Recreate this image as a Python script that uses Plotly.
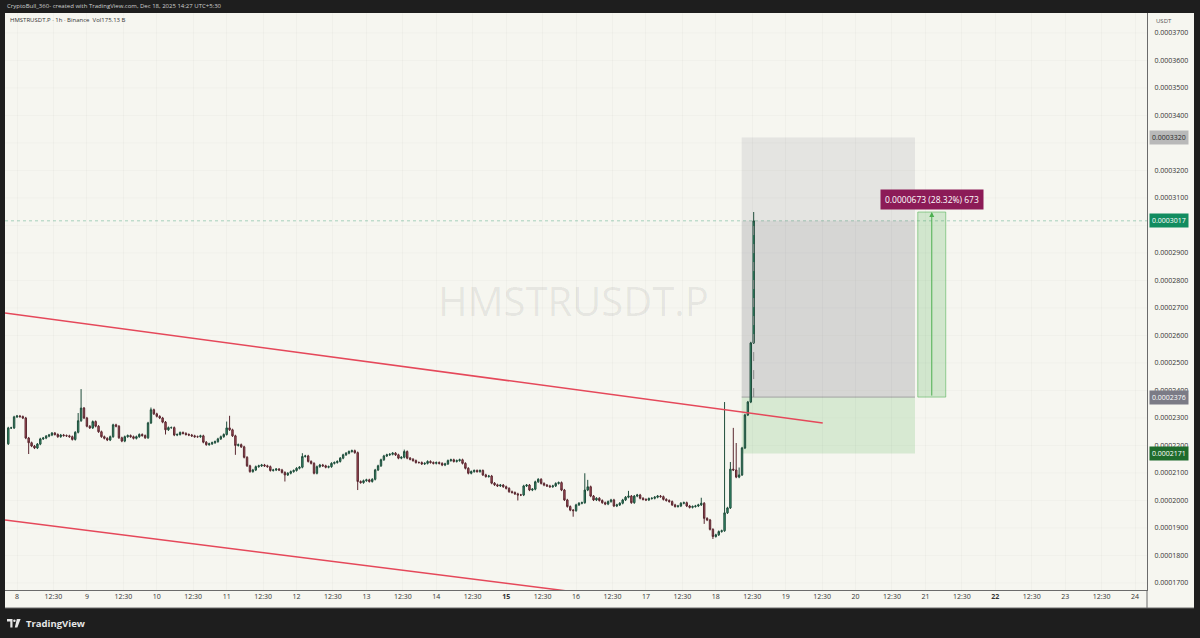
import plotly.graph_objects as go

# ---------------- data ----------------
SYMBOL = "HMSTRUSDT.P"
HEADER = "HMSTRUSDT.P · 1h · Binance  Vol175.13 B"
TOPBAR = "CryptoBull_360- created with TradingView.com, Dec 18, 2025 14:27 UTC+5:30"
PRICE_UNIT = 1e-7          # candle values below are in units of 0.0000001 USDT
START_DAY = 7.875          # day number of the first 1h candle
BAR_DAYS = 1 / 24
FIRST_OPEN = 2206
CLOSES = [
    2264, 2264, 2304, 2307, 2305, 2300, 2227, 2210, 2198, 2191,
    2205, 2224, 2227, 2234, 2238, 2245, 2240, 2232, 2238, 2236,
    2235, 2232, 2222, 2248, 2290, 2336, 2300, 2270, 2264, 2287,
    2270, 2250, 2232, 2226, 2220, 2232, 2275, 2270, 2228, 2216,
    2232, 2236, 2232, 2226, 2232, 2240, 2236, 2228, 2282, 2330,
    2315, 2306, 2300, 2285, 2257, 2265, 2265, 2238, 2240, 2247,
    2244, 2240, 2238, 2235, 2232, 2232, 2235, 2212, 2203, 2206,
    2210, 2214, 2224, 2232, 2240, 2264, 2257, 2235, 2200, 2203,
    2195, 2157, 2126, 2105, 2111, 2123, 2126, 2129, 2126, 2123,
    2109, 2111, 2114, 2111, 2102, 2093, 2099, 2105, 2109, 2117,
    2121, 2160, 2162, 2142, 2135, 2099, 2123, 2129, 2126, 2121,
    2123, 2135, 2138, 2142, 2154, 2166, 2172, 2178, 2181, 2174,
    2069, 2065, 2072, 2075, 2069, 2077, 2111, 2126, 2148, 2162,
    2166, 2168, 2172, 2166, 2154, 2157, 2178, 2154, 2150, 2145,
    2138, 2138, 2133, 2135, 2142, 2138, 2135, 2138, 2135, 2129,
    2133, 2145, 2148, 2142, 2145, 2148, 2135, 2117, 2099, 2105,
    2109, 2105, 2109, 2093, 2087, 2089, 2063, 2057, 2053, 2056,
    2050, 2044, 2032, 2029, 2024, 2020, 2020, 2053, 2056, 2038,
    2041, 2068, 2077, 2062, 2056, 2053, 2050, 2053, 2062, 2065,
    2038, 2002, 1978, 1965, 1963, 1984, 1990, 1992, 2038, 2050,
    2016, 2002, 2008, 2000, 1992, 1987, 1996, 2002, 1980, 1984,
    1990, 2002, 2012, 2016, 1992, 2016, 2020, 2008, 2004, 2002,
    2007, 2008, 2012, 2016, 2014, 2004, 2000, 1996, 1984, 1978,
    1980, 1990, 1992, 1980, 1975, 1978, 1980, 1984, 1990, 1935,
    1929, 1895, 1869, 1875, 1887, 1890, 1955, 1973, 2114, 2111,
    2085, 2093, 2191, 2311, 2358, 2573, 3017,
]
HIGH_WICKS = {24: 2318, 25: 2405, 49: 2338, 75: 2287, 76: 2308, 101: 2172,
              136: 2185, 198: 2099, 199: 2075, 213: 2035, 238: 2010,
              246: 2358, 248: 2140, 249: 2264, 250: 2209, 251: 2120, 256: 3049}
LOW_WICKS = {7: 2169, 54: 2240, 78: 2166, 95: 2069, 120: 2038, 175: 2000,
             194: 1941, 239: 1915, 242: 1860}
DEFAULT_WICK = 4

ENTRY = 0.0002376
TARGET = 0.0003320
STOP = 0.0002171
CURRENT = 0.0003017
MEASURE_TOP = 0.0003049
POSITION_X = [18.37, 20.85]
MEASURE_X = [20.89, 21.29]
MEASURE_TEXT = "0.0000673 (28.32%) 673"
MEASURE_LABEL_Y = 0.0003095

TREND1_X = [7.828, 19.53]
TREND1_Y = [0.0002682, 0.0002282]
TREND2_X = [7.828, 16.34]
TREND2_Y = [0.0001929, 0.0001656]

X_RANGE = [7.828, 24.17]
Y_RANGE = [0.00016745, 0.00037727]
# price-scale ticks (0.0003000 and 0.0003300 sit under the price tags)
Y_TICKS = [0.00017, 0.00018, 0.00019, 0.00020, 0.00021, 0.00022, 0.00023,
           0.00024, 0.00025, 0.00026, 0.00027, 0.00028, 0.00029,
           0.00031, 0.00032, 0.00034, 0.00035, 0.00036, 0.00037]
Y_GRID = [0.00017 + k * 0.00001 for k in range(21)]

DAYS = list(range(8, 25))
DAY_TEXT = [str(d) if d not in (15, 22) else "<b>%d</b>" % d for d in DAYS]
HALF_TEXT = "12:30"
HALF_OFFSET = 12.5 / 24

PRICE_TAGS = [  # (price, text, bg, fg)
    (TARGET, "0.0003320", "#b9b9b9", "#2a2a2a"),
    (CURRENT, "0.0003017", "#118c5f", "#ffffff"),
    (ENTRY, "0.0002376", "#7b7b86", "#ffffff"),
    (STOP, "0.0002171", "#1f6b2c", "#ffffff"),
]

# ---------------- build ----------------
W, H = 1200, 638
PL, PR, PT, PB = 5, 1147, 13, 590


def px(x):
    return (x - PL) / (PR - PL)


def py(y):
    return (PB - y) / (PB - PT)


xs, o, h, l, c = [], [], [], [], []
prev = FIRST_OPEN
for i, cl in enumerate(CLOSES):
    xs.append(START_DAY + i * BAR_DAYS)
    hi = HIGH_WICKS.get(i, max(prev, cl) + DEFAULT_WICK)
    lo = LOW_WICKS.get(i, min(prev, cl) - DEFAULT_WICK)
    o.append(prev * PRICE_UNIT)
    c.append(cl * PRICE_UNIT)
    h.append(hi * PRICE_UNIT)
    l.append(lo * PRICE_UNIT)
    prev = cl

fig = go.Figure()
fig.add_trace(go.Candlestick(
    x=xs, open=o, high=h, low=l, close=c,
    increasing=dict(line=dict(color="#1f4d3b", width=1), fillcolor="#3a9a76"),
    decreasing=dict(line=dict(color="#5a2830", width=1), fillcolor="#b0505d"),
    whiskerwidth=0, hoverinfo="skip", showlegend=False,
))
for tx, ty in ((TREND1_X, TREND1_Y), (TREND2_X, TREND2_Y)):
    fig.add_trace(go.Scatter(x=tx, y=ty, mode="lines",
                             line=dict(color="#e5485a", width=1.5),
                             hoverinfo="skip", showlegend=False))

shapes = [
    dict(type="rect", xref="paper", yref="paper", x0=px(5), x1=px(1194),
         y0=py(608), y1=py(13), fillcolor="#f6f6f0", line=dict(width=0), layer="below"),
]
# horizontal grid lines (every price step)
for g in Y_GRID:
    shapes.append(dict(type="line", xref="paper", yref="y", x0=0, x1=1, y0=g, y1=g,
                       line=dict(color="rgba(0,0,0,0.025)", width=1), layer="below"))
shapes += [
    dict(type="rect", xref="x", yref="y", x0=POSITION_X[0], x1=POSITION_X[1],
         y0=ENTRY, y1=TARGET, fillcolor="rgba(120,123,134,0.14)", line=dict(width=0), layer="below"),
    dict(type="rect", xref="x", yref="y", x0=POSITION_X[0], x1=POSITION_X[1],
         y0=ENTRY, y1=CURRENT, fillcolor="rgba(120,123,134,0.13)", line=dict(width=0), layer="below"),
    dict(type="rect", xref="x", yref="y", x0=POSITION_X[0], x1=POSITION_X[1],
         y0=STOP, y1=ENTRY, fillcolor="rgba(76,175,80,0.18)", line=dict(width=0), layer="below"),
    dict(type="line", xref="x", yref="y", x0=POSITION_X[0], x1=POSITION_X[1],
         y0=ENTRY, y1=ENTRY, line=dict(color="#a3a3a3", width=1), layer="below"),
    dict(type="line", xref="paper", yref="y", x0=0, x1=1, y0=CURRENT, y1=CURRENT,
         line=dict(color="rgba(17,140,95,0.35)", width=1, dash="dot"), layer="below"),
    dict(type="line", xref="x", yref="y", x0=xs[-1], x1=xs[-1], y0=ENTRY, y1=CURRENT,
         line=dict(color="#8a8a8a", width=1, dash="dash")),
    dict(type="rect", xref="x", yref="y", x0=MEASURE_X[0], x1=MEASURE_X[1],
         y0=ENTRY, y1=MEASURE_TOP, fillcolor="rgba(76,175,80,0.22)",
         line=dict(color="rgba(76,175,80,0.55)", width=1), layer="below"),
    # frame lines
    dict(type="line", xref="paper", yref="paper", x0=px(1147), x1=px(1147),
         y0=py(608), y1=py(590), line=dict(color="#6b6b6b", width=1)),
    dict(type="line", xref="paper", yref="paper", x0=px(5), x1=px(1194),
         y0=py(608), y1=py(608), line=dict(color="#6b6b6b", width=1)),
]

# TradingView logo glyph
def path(points):
    return "M" + " L".join("%f,%f" % (px(a), py(b)) for a, b in points) + " Z"

shapes.append(dict(type="path", xref="paper", yref="paper",
                   path=path([(7, 619), (12.5, 619), (12.5, 627.5), (10.3, 627.5), (10.3, 621.5), (7, 621.5)]),
                   fillcolor="#e6e6e6", line=dict(width=0)))
shapes.append(dict(type="circle", xref="paper", yref="paper",
                   x0=px(13.2), x1=px(15.6), y0=py(622), y1=py(619.6),
                   fillcolor="#e6e6e6", line=dict(width=0)))
shapes.append(dict(type="path", xref="paper", yref="paper",
                   path=path([(16.8, 619), (20.6, 619), (17.4, 627.5), (14.8, 627.5)]),
                   fillcolor="#e6e6e6", line=dict(width=0)))

ann = [
    dict(xref="paper", yref="paper", x=px(5), y=py(6), xanchor="left", yanchor="middle",
         text=TOPBAR, showarrow=False, font=dict(size=6, color="#cfcfcf", family="Open Sans")),
    dict(xref="paper", yref="paper", x=px(8), y=py(20), xanchor="left", yanchor="middle",
         text=HEADER, showarrow=False, font=dict(size=6, color="#333333", family="Open Sans")),
    dict(xref="paper", yref="paper", x=px(573), y=py(300), xanchor="center", yanchor="middle",
         text=SYMBOL, showarrow=False, font=dict(size=40, color="rgba(0,0,0,0.07)", family="Open Sans")),
    dict(xref="paper", yref="paper", x=px(1154), y=py(21), xanchor="left", yanchor="middle",
         text="USDT", showarrow=False, font=dict(size=6, color="#555555", family="Open Sans")),
    dict(xref="paper", yref="paper", x=px(24), y=py(623.5), xanchor="left", yanchor="middle",
         text="<b>TradingView</b>", showarrow=False, font=dict(size=9.5, color="#e6e6e6", family="Open Sans")),
    dict(xref="x", yref="y", x=sum(MEASURE_X) / 2, y=MEASURE_LABEL_Y, text=MEASURE_TEXT,
         showarrow=False, bgcolor="#8c1b57", borderpad=4,
         font=dict(size=8.5, color="#ffffff", family="Open Sans")),
    dict(xref="x", yref="y", axref="x", ayref="y", x=sum(MEASURE_X) / 2, y=MEASURE_TOP,
         ax=sum(MEASURE_X) / 2, ay=ENTRY, text="", showarrow=True, arrowhead=2,
         arrowsize=1, arrowwidth=1, arrowcolor="#4caf50"),
]
for price, txt, bg, fg in PRICE_TAGS:
    ann.append(dict(xref="paper", yref="y", x=px(1149), y=price, xanchor="left",
                    yanchor="middle", text=txt, showarrow=False, bgcolor=bg, borderpad=2,
                    font=dict(size=7, color=fg, family="Open Sans")))

tickvals, ticktext = [], []
for d, t in zip(DAYS, DAY_TEXT):
    tickvals.append(d)
    ticktext.append(t)
    tickvals.append(d + HALF_OFFSET)
    ticktext.append(HALF_TEXT)

fig.update_layout(
    width=W, height=H, autosize=False,
    margin=dict(l=PL, r=W - PR, t=PT, b=H - PB),
    paper_bgcolor="#1e1e1e", plot_bgcolor="rgba(0,0,0,0)",
    shapes=shapes, annotations=ann, showlegend=False,
    xaxis=dict(range=X_RANGE, tickvals=tickvals, ticktext=ticktext,
               showgrid=True, gridcolor="rgba(0,0,0,0.025)", zeroline=False,
               showline=True, linecolor="#6b6b6b", linewidth=1, ticks="",
               tickfont=dict(size=7, color="#333333", family="Open Sans"),
               rangeslider=dict(visible=False), fixedrange=True),
    yaxis=dict(range=Y_RANGE, side="right", tickmode="array", tickvals=Y_TICKS,
               tickformat=".7f", showgrid=False,
               zeroline=False, showline=True, linecolor="#6b6b6b", linewidth=1,
               ticks="", ticklabelstandoff=5,
               tickfont=dict(size=7, color="#333333", family="Open Sans"), fixedrange=True),
)

fig.write_html(
    "out.html",
    config={"displayModeBar": False},
    post_script="document.body.style.margin='0';document.body.style.overflow='hidden';",
)
